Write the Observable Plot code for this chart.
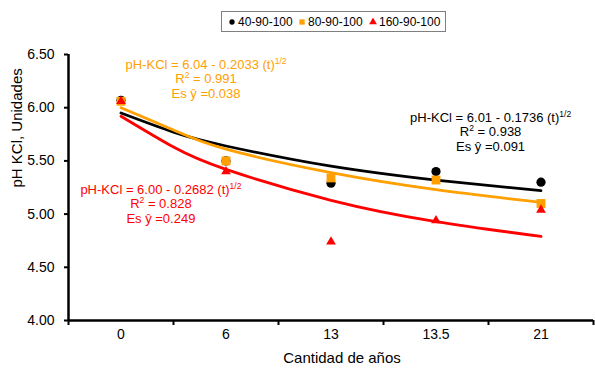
<!DOCTYPE html>
<html>
<head>
<meta charset="utf-8">
<script src="https://cdn.jsdelivr.net/npm/d3@7"></script>
<script src="https://cdn.jsdelivr.net/npm/@observablehq/plot@0.6"></script>
<style>
  body { margin: 0; background: #fff; font-family: "Liberation Sans", Arial, sans-serif; }
  #wrap { position: relative; width: 595px; height: 369px; overflow: hidden; }
  #legend { position: absolute; left: 221px; top: 11px; width: 225px; height: 21px; border: 1px solid #7f7f7f;
            box-sizing: border-box; font-size: 12px; color: #000; }
  #legend .item { position: absolute; top: 0; height: 21px; line-height: 21px; white-space: nowrap; }
  #legend svg { vertical-align: middle; margin-right: 2px; position: relative; top: -1px; }
</style>
</head>
<body>
<div id="wrap"><div id="legend"></div></div>
<script>
// ---- data ----
const categories = ["0", "6", "13", "13.5", "21"];
const seriesNames = ["40-90-100", "80-90-100", "160-90-100"];
const seriesColors = ["#000000", "#FFA000", "#FF0000"];
const seriesSymbols = ["circle", "square", "triangle"];
const obs40 = [6.07, 5.50, 5.29, 5.40, 5.30];
const obs80 = [6.06, 5.50, 5.34, 5.32, 5.10];
const obs160 = [6.06, 5.40, 4.74, 4.94, 5.04];
const trendPos = [0, 0.5, 1, 2, 3, 4];
const trend40 = [5.95, 5.77, 5.64, 5.45, 5.32, 5.22];
const trend80 = [6.00, 5.79, 5.61, 5.39, 5.23, 5.11];
const trend160 = [5.92, 5.63, 5.42, 5.13, 4.93, 4.79];
const eqTexts = [
  "pH-KCl = 6.01 - 0.1736 (t){1/2}\nR{2} = 0.938\nEs ŷ =0.091",
  "pH-KCl = 6.04 - 0.2033 (t){1/2}\nR{2} = 0.991\nEs ŷ =0.038",
  "pH-KCl = 6.00 - 0.2682 (t){1/2}\nR{2} = 0.828\nEs ŷ =0.249"
];
const eqPos = [3.52, 0.81, 0.38];
const eqVal = [5.776, 6.274, 5.10];
const yTicks = [4.00, 4.50, 5.00, 5.50, 6.00, 6.50];
const xTitle = "Cantidad de años";
const yTitle = "pH KCl, Unidades";

// ---- tables built from arrays ----
const obsArrays = [obs40, obs80, obs160];
const trendArrays = [trend40, trend80, trend160];
const obsData = seriesNames.map((s, k) => obsArrays[k].map((v, i) => ({series: s, pos: i, value: v})));
const trendData = seriesNames.map((s, k) => trendArrays[k].map((v, i) => ({series: s, pos: trendPos[i], value: v})));
const eqData = eqTexts.map((t, k) => ({text: t, pos: eqPos[k], value: eqVal[k], color: seriesColors[k]}));
const catIdx = categories.map((c, i) => i);
const bounds = [-0.5, ...catIdx.map(i => i + 0.5)];

const symbolSize = {circle: 4.6, square: 5, triangle: 3.6};

const marks = [];
// trend lines
trendData.forEach((d, k) => marks.push(Plot.line(d, {x: "pos", y: "value", stroke: seriesColors[k], strokeWidth: 2.8, curve: "natural"})));
// points
obsData.forEach((d, k) => marks.push(Plot.dot(d, {x: "pos", y: "value", fill: seriesColors[k], stroke: "none",
  symbol: seriesSymbols[k], r: symbolSize[seriesSymbols[k]]})));
// axes
marks.push(Plot.axisY({ticks: yTicks, tickFormat: d3.format(".2f"), tickSize: 4, tickPadding: 10, fontSize: 14, label: null, strokeWidth: 2}));
marks.push(Plot.axisX({ticks: catIdx, tickSize: 0, tickPadding: 9, tickFormat: i => categories[i], fontSize: 14, label: null}));
marks.push(Plot.axisX({ticks: bounds, tickSize: 5, tickFormat: () => "", label: null, strokeWidth: 2}));
marks.push(Plot.ruleY([4], {strokeWidth: 2.5}));
marks.push(Plot.ruleX([-0.5], {strokeWidth: 2.5}));
// titles
marks.push(Plot.text([yTitle], {text: d => d, frameAnchor: "left", rotate: -90, dx: -51, fontSize: 15}));
marks.push(Plot.text([xTitle], {text: d => d, frameAnchor: "bottom", dy: 42, dx: 11, fontSize: 15}));
// equations
marks.push(Plot.text(eqData, {x: "pos", y: "value", text: "text", fill: "color", fontSize: 13, lineHeight: 1.12, lineAnchor: "middle"}));

const chart = Plot.plot({
  width: 595, height: 369,
  marginTop: 54, marginBottom: 49, marginLeft: 68, marginRight: 2,
  x: {type: "linear", domain: [-0.5, 4.5], axis: null},
  y: {domain: [4, 6.5], axis: null},
  style: {fontFamily: "'Liberation Sans', Arial, sans-serif", color: "#000", background: "#fff", overflow: "visible"},
  marks
});

// superscripts
chart.querySelectorAll("text, tspan").forEach(el => {
  if (el.children.length) return;
  const t = el.textContent;
  if (!t.includes("{")) return;
  el.textContent = "";
  t.split(/(\{[^}]*\})/).forEach(part => {
    if (!part) return;
    if (part.startsWith("{")) {
      const s = document.createElementNS("http://www.w3.org/2000/svg", "tspan");
      s.setAttribute("baseline-shift", "super");
      s.setAttribute("font-size", "8.5");
      s.textContent = part.slice(1, -1);
      el.appendChild(s);
    } else el.appendChild(document.createTextNode(part));
  });
});

const wrap = document.getElementById("wrap");
chart.style.position = "absolute"; chart.style.left = "0"; chart.style.top = "0";
wrap.insertBefore(chart, wrap.firstChild);

// legend
const legend = document.getElementById("legend");
const legendLeft = [6, 76, 147];
seriesNames.forEach((s, k) => {
  const item = document.createElement("div");
  item.className = "item";
  item.style.left = legendLeft[k] + "px";
  const sym = d3.symbol().type(k === 0 ? d3.symbolCircle : k === 1 ? d3.symbolSquare : d3.symbolTriangle)
    .size(k === 0 ? 22 : k === 1 ? 28 : 26)();
  item.innerHTML = `<svg width="8" height="8" viewBox="-4 -4 8 8"><path d="${sym}" fill="${seriesColors[k]}"/></svg>${s}`;
  legend.appendChild(item);
});
</script>
</body>
</html>
